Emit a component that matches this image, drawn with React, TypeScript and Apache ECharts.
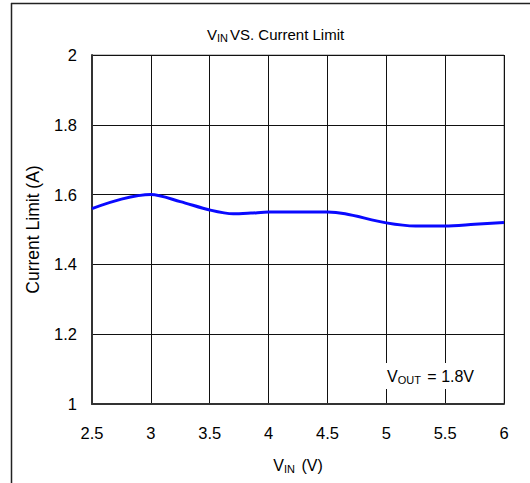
import React, { useEffect, useRef } from "react";
import * as echarts from "echarts";

const vin = [2.5, 2.75, 3.0, 3.25, 3.5, 3.7, 3.85, 4.0, 4.25, 4.5, 4.65, 5.0, 5.25, 5.5, 5.75, 6.0];
const currentLimit = [1.56, 1.587, 1.6, 1.58, 1.556, 1.545, 1.547, 1.55, 1.55, 1.55, 1.545, 1.519, 1.51, 1.51, 1.515, 1.52];
const xTicks = { min: 2.5, max: 6, interval: 0.5 };
const yTicks = { min: 1, max: 2, interval: 0.2 };

const FONT = "'Liberation Sans', Arial, sans-serif";

export default function App() {
  const ref = useRef<HTMLDivElement>(null);
  useEffect(() => {
    if (!ref.current) return;
    const chart = echarts.init(ref.current, null, { renderer: "svg" });
    const richTitle = {
      a: { fontSize: 15, fontFamily: FONT, fontWeight: "normal", color: "#000" },
      s: { fontSize: 11, fontFamily: FONT, fontWeight: "normal", color: "#000", verticalAlign: "bottom", padding: [6, 2, 0, 0] },
    };
    const rich = {
      a: { fontSize: 16, fontFamily: FONT, fontWeight: "normal", color: "#000" },
      s: { fontSize: 11, fontFamily: FONT, fontWeight: "normal", color: "#000", verticalAlign: "bottom", padding: [7, 2, 0, 0] },
    };
    chart.setOption({
      animation: false,
      backgroundColor: "#fff",
      textStyle: { fontFamily: FONT },
      title: {
        text: "{a|V}{s|IN}{a|VS. Current Limit}",
        left: 202,
        top: 21,
        textStyle: { rich: richTitle, fontWeight: "normal" },
      },
      grid: { left: 92, right: 26, top: 55, bottom: 79, show: true, borderColor: "#888", borderWidth: 1 },
      xAxis: {
        type: "value",
        min: xTicks.min,
        max: xTicks.max,
        interval: xTicks.interval,
        name: "{a|V}{s|IN}{a| (V)}",
        nameLocation: "middle",
        nameGap: 52,
        nameTextStyle: { rich },
        axisLine: { lineStyle: { color: "#333", width: 2 } },
        axisTick: { show: false },
        axisLabel: { fontSize: 16.5, color: "#000", margin: 20, fontFamily: FONT },
        splitLine: { show: true, lineStyle: { color: "#111", width: 1 } },
      },
      yAxis: {
        type: "value",
        min: yTicks.min,
        max: yTicks.max,
        interval: yTicks.interval,
        name: "Current Limit (A)",
        nameLocation: "middle",
        nameGap: 50,
        nameRotate: 90,
        nameTextStyle: { fontSize: 17.5, color: "#000", fontFamily: FONT },
        axisLine: { show: true, lineStyle: { color: "#333", width: 2 } },
        axisTick: { show: false },
        axisLabel: { fontSize: 16.5, color: "#000", margin: 15, fontFamily: FONT },
        splitLine: { show: true, lineStyle: { color: "#111", width: 1 } },
      },
      series: [
        {
          type: "line",
          data: vin.map((v, i) => [v, currentLimit[i]]),
          smooth: 0.3,
          showSymbol: false,
          lineStyle: { color: "#0a0aff", width: 3 },
        },
      ],
      graphic: [
        { type: "line", shape: { x1: 11.5, y1: 3, x2: 11.5, y2: 483 }, style: { stroke: "#222", lineWidth: 1.5 } },
        { type: "line", shape: { x1: 11, y1: 3.5, x2: 530, y2: 3.5 }, style: { stroke: "#222", lineWidth: 1.5 } },
        {
          type: "text",
          left: 385,
          top: 363,
          z: 100,
          style: {
            text: "{a|V}{s|OUT}{a| = 1.8V}",
            rich,
            backgroundColor: "#fff",
            padding: [4, 4, 4, 2],
          },
        },
      ],
    });
    return () => chart.dispose();
  }, []);
  return <div ref={ref} style={{ position: "absolute", left: 0, top: 0, width: 530, height: 483 }} />;
}
